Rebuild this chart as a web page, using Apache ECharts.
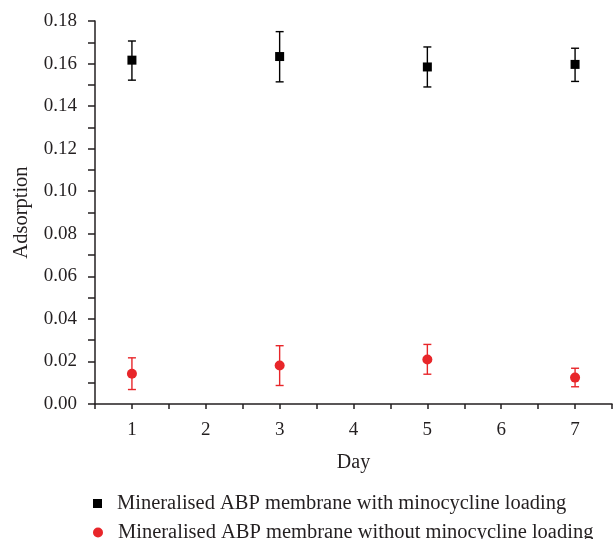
<!DOCTYPE html>
<html>
<head>
<meta charset="utf-8">
<script src="https://cdn.jsdelivr.net/npm/echarts@6/dist/echarts.min.js"></script>
<style>
  html, body { margin: 0; padding: 0; background: #fff; }
  #chart { width: 615px; height: 539px; }
</style>
</head>
<body>
<div id="chart"></div>
<script>
// values
var days = [1, 3, 5, 7];
var withMean = [0.1616, 0.1633, 0.1584, 0.1596];
var withLow = [0.1522, 0.1514, 0.1490, 0.1516];
var withHigh = [0.1706, 0.1750, 0.1678, 0.1672];
var withoutMean = [0.0142, 0.0181, 0.0209, 0.0124];
var withoutLow = [0.0068, 0.0087, 0.0140, 0.0081];
var withoutHigh = [0.0217, 0.0274, 0.0280, 0.0168];
var yTicks = [0, 0.02, 0.04, 0.06, 0.08, 0.10, 0.12, 0.14, 0.16, 0.18];

var nameWith = 'Mineralised ABP membrane with minocycline loading';
var nameWithout = 'Mineralised ABP membrane without minocycline loading';
var txt = '#231f20';
var red = '#e8262a';
var font = 'Liberation Serif';

function pts(xs, ys) {
    return xs.map(function (x, i) { return [x, ys[i]]; });
}
function errRows(xs, lo, hi) {
    return xs.map(function (x, i) { return [x, lo[i], hi[i]]; });
}
function errBars(color) {
    return function (params, api) {
        var lo = api.coord([api.value(0), api.value(1)]);
        var hi = api.coord([api.value(0), api.value(2)]);
        var w = 4;
        var st = { stroke: color, lineWidth: 1.4 };
        return {
            type: 'group',
            children: [
                { type: 'line', shape: { x1: lo[0], y1: lo[1], x2: hi[0], y2: hi[1] }, style: st },
                { type: 'line', shape: { x1: lo[0] - w, y1: lo[1], x2: lo[0] + w, y2: lo[1] }, style: st },
                { type: 'line', shape: { x1: hi[0] - w, y1: hi[1], x2: hi[0] + w, y2: hi[1] }, style: st }
            ]
        };
    };
}

function legendBox(name, icon, size, top) {
    return {
        left: 88, top: top, itemWidth: size, itemHeight: size, itemGap: 0,
        textStyle: { fontFamily: font, fontSize: 20.5, color: txt, padding: [0, 0, 0, 10] },
        data: [{ name: name, icon: icon }]
    };
}

var chart = echarts.init(document.getElementById('chart'));
chart.setOption({
    animation: false,
    textStyle: { fontFamily: font, color: txt },
    grid: { left: 95, right: 0, top: 21, bottom: 135 },
    xAxis: {
        type: 'value', min: 0.5, max: 7.5, interval: 0.5,
        name: 'Day', nameLocation: 'middle', nameGap: 49,
        nameTextStyle: { fontFamily: font, fontSize: 20, color: txt },
        axisLine: { lineStyle: { color: txt, width: 1.5 } },
        axisTick: { length: 5, lineStyle: { color: txt, width: 1.5 } },
        axisLabel: {
            fontFamily: font, fontSize: 19, color: txt, margin: 17,
            formatter: function (v) { return v % 1 === 0 ? String(v) : ''; }
        },
        splitLine: { show: false }
    },
    yAxis: {
        type: 'value', min: 0, max: 0.18, interval: 0.02,
        name: 'Adsorption', nameLocation: 'middle', nameGap: 63,
        nameTextStyle: { fontFamily: font, fontSize: 20.5, color: txt },
        axisLine: { show: true, lineStyle: { color: txt, width: 1.5 } },
        axisTick: { show: true, length: 7, lineStyle: { color: txt, width: 1.5 } },
        minorTick: { show: true, splitNumber: 2, length: 7, lineStyle: { color: txt, width: 1.5 } },
        axisLabel: {
            fontFamily: font, fontSize: 19, color: txt, margin: 18,
            formatter: function (v) {
                var t = yTicks.find(function (k) { return Math.abs(k - v) < 1e-9; });
                return (t === undefined ? v : t).toFixed(2);
            }
        },
        splitLine: { show: false }
    },
    legend: [
        legendBox(nameWith, 'rect', 9, 488),
        legendBox(nameWithout, 'circle', 10, 517)
    ],
    series: [
        {
            type: 'custom', renderItem: errBars('#000'),
            data: errRows(days, withLow, withHigh), z: 2, silent: true
        },
        {
            type: 'custom', renderItem: errBars(red),
            data: errRows(days, withoutLow, withoutHigh), z: 2, silent: true
        },
        {
            name: nameWith, type: 'scatter', symbol: 'rect', symbolSize: 9,
            itemStyle: { color: '#000', opacity: 1 }, data: pts(days, withMean), z: 3
        },
        {
            name: nameWithout, type: 'scatter', symbol: 'circle', symbolSize: 10,
            itemStyle: { color: red, opacity: 1 }, data: pts(days, withoutMean), z: 3
        }
    ]
});
</script>
</body>
</html>
